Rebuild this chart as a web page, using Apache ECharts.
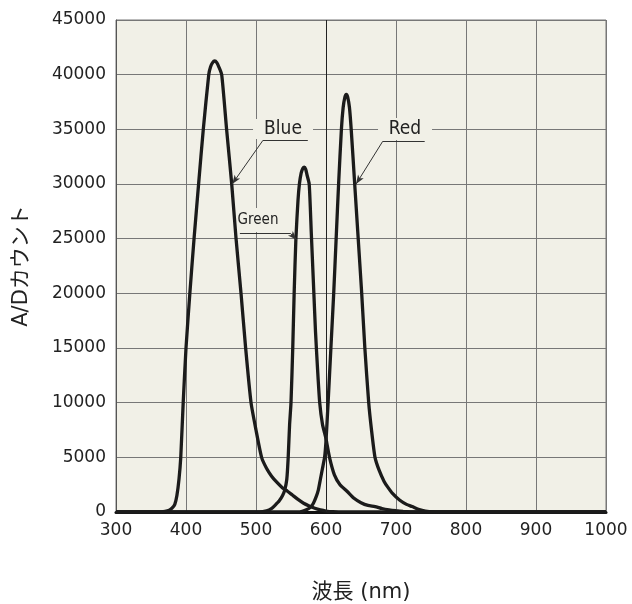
<!DOCTYPE html>
<html><head><meta charset="utf-8">
<script src="https://cdn.jsdelivr.net/npm/echarts@6.0.0/dist/echarts.min.js"></script>
<style>html,body{margin:0;padding:0;background:#fff}#c{width:632px;height:604px}</style>
</head><body><div id="c"></div>
<script>
// wavelength (nm) and A/D counts
const blueX = [300,360,370,376,380,384,387,390,392.5,396,400,405.5,411.5,418,424.7,432.5,435,438,441,444,447,451,458,465.3,471.5,478.6,485.2,492.9,500,508,515,522,530,538,545,552,560,568,576,584,592,600,610,625,1000];
const blueY = [0,0,50,150,350,700,1500,3000,5000,10000,15000,20000,25000,30000,35000,40000,40700,41100,41250,41100,40700,40000,35000,30000,25000,20000,15000,10000,7500,5000,4000,3300,2700,2200,1900,1550,1150,800,550,340,190,90,30,0,0];

const greenX = [300,480,505,515,522,527,533,538,541,544,546,548,550,552.5,554.5,557,560,562,564.5,567,569,571,573,576,579,582,585,588,591,595,600,605,612,620,630,640,650,660,670,680,690,700,710,720,735,1000];
const greenY = [0,0,0,100,300,600,1000,1500,2000,3000,5000,8000,10000,15000,20000,25000,28500,30000,31000,31450,31550,31350,30800,30000,25500,21000,16500,13000,10000,8000,6700,5000,3400,2500,1900,1250,850,600,500,320,200,120,60,20,0,0];

const redX = [300,560,566,572,578,582,586,589,592,595,598,600,603,607,611,614.5,618,622,624.5,627,629,631,633.5,636,641,646,651,655.5,661,665,670,676,683,688,695,705,715,723,732,742,755,770,1000];
const redY = [0,0,60,200,450,800,1400,2000,3000,4000,5000,6500,10000,15000,20000,25000,30000,35000,37000,37950,38200,37950,37000,35000,30000,25000,20000,15000,10000,7500,5000,3800,2800,2300,1700,1100,700,500,250,80,10,0,0];

const xTicks = {min: 300, max: 1000, step: 100};
const yTicks = {min: 0, max: 45000, step: 5000};

// annotations (data coordinates)
const annoNames = ['Blue', 'Red', 'Green'];
const annoTextAt = [[538.6, 35030], [712.9, 35030], [502.9, 26700]];
const annoUnderline = [[[510, 34000], [574, 34000]], [[681, 33900], [741, 33900]], [[477, 25500], [549, 25500]]];
const annoArrow = [[[510, 34000], [466, 30000]], [[681, 33900], [643, 30000]], [[549, 25500], [558, 24900]]];
const darkLineAt = 600;

const zip = (xs, ys) => xs.map((x, i) => [x, ys[i]]);
const BG = '#f1f0e7';
const labelFont = '"DejaVu Sans Condensed","DejaVu Sans"';
const labelSize = [19, 19, 15];
const boxSize = [[60, 20], [54, 22], [36, 24]];

const mlData = [{xAxis: darkLineAt, lineStyle: {color: '#222', width: 1}}];
annoUnderline.forEach(u => mlData.push([{coord: u[0]}, {coord: u[1]}]));
annoArrow.forEach(a => mlData.push([{coord: a[0]}, {coord: a[1], symbol: 'arrow', symbolSize: [5, 9]}]));

const mpData = annoNames.map((n, i) => ({
  name: n, coord: annoTextAt[i], symbol: 'rect', symbolSize: boxSize[i],
  itemStyle: {color: BG},
  label: {show: true, position: 'inside', formatter: n, color: '#222',
    fontFamily: labelFont, fontSize: labelSize[i]}
}));

const lineBase = {type: 'line', showSymbol: false, smooth: 0.2,
  lineStyle: {color: '#1b1b1b', width: 3.3}, emphasis: {disabled: true}, silent: true};

const chart = echarts.init(document.getElementById('c'));
chart.setOption({
  animation: false,
  backgroundColor: '#ffffff',
  textStyle: {fontFamily: '"DejaVu Sans","Noto Sans CJK JP"'},
  grid: {left: 116, right: 26, top: 20, bottom: 92, show: true, backgroundColor: BG,
    borderColor: '#777', borderWidth: 1, outerBoundsMode: 'none'},
  xAxis: {type: 'value', min: xTicks.min, max: xTicks.max, interval: xTicks.step,
    name: '波長 (nm)', nameLocation: 'middle', nameGap: 70,
    nameTextStyle: {fontSize: 21, color: '#222', fontFamily: '"DejaVu Sans","Noto Sans CJK JP"'},
    axisLine: {show: true, onZero: false, lineStyle: {color: '#111', width: 3}},
    axisTick: {show: false},
    axisLabel: {fontSize: 17, color: '#222', margin: 10, formatter: v => String(v)},
    splitLine: {show: true, lineStyle: {color: '#777', width: 1}}},
  yAxis: {type: 'value', min: yTicks.min, max: yTicks.max, interval: yTicks.step,
    name: 'A/Dカウント', nameLocation: 'middle', nameGap: 84,
    nameTextStyle: {fontSize: 21, color: '#222', fontFamily: '"DejaVu Sans","Noto Sans CJK JP"'},
    axisLine: {show: true, lineStyle: {color: '#555', width: 1}},
    axisTick: {show: false},
    axisLabel: {fontSize: 17, color: '#222', margin: 10, formatter: v => String(v)},
    splitLine: {show: true, lineStyle: {color: '#777', width: 1}}},
  series: [
    Object.assign({}, lineBase, {name: 'Blue', data: zip(blueX, blueY),
      markLine: {silent: true, symbol: ['none', 'none'], animation: false,
        lineStyle: {color: '#333', width: 1, type: 'solid'}, label: {show: false},
        emphasis: {disabled: true}, data: mlData},
      markPoint: {silent: true, animation: false, data: mpData}}),
    Object.assign({}, lineBase, {name: 'Green', data: zip(greenX, greenY)}),
    Object.assign({}, lineBase, {name: 'Red', data: zip(redX, redY)})
  ]
});
</script>
</body></html>
